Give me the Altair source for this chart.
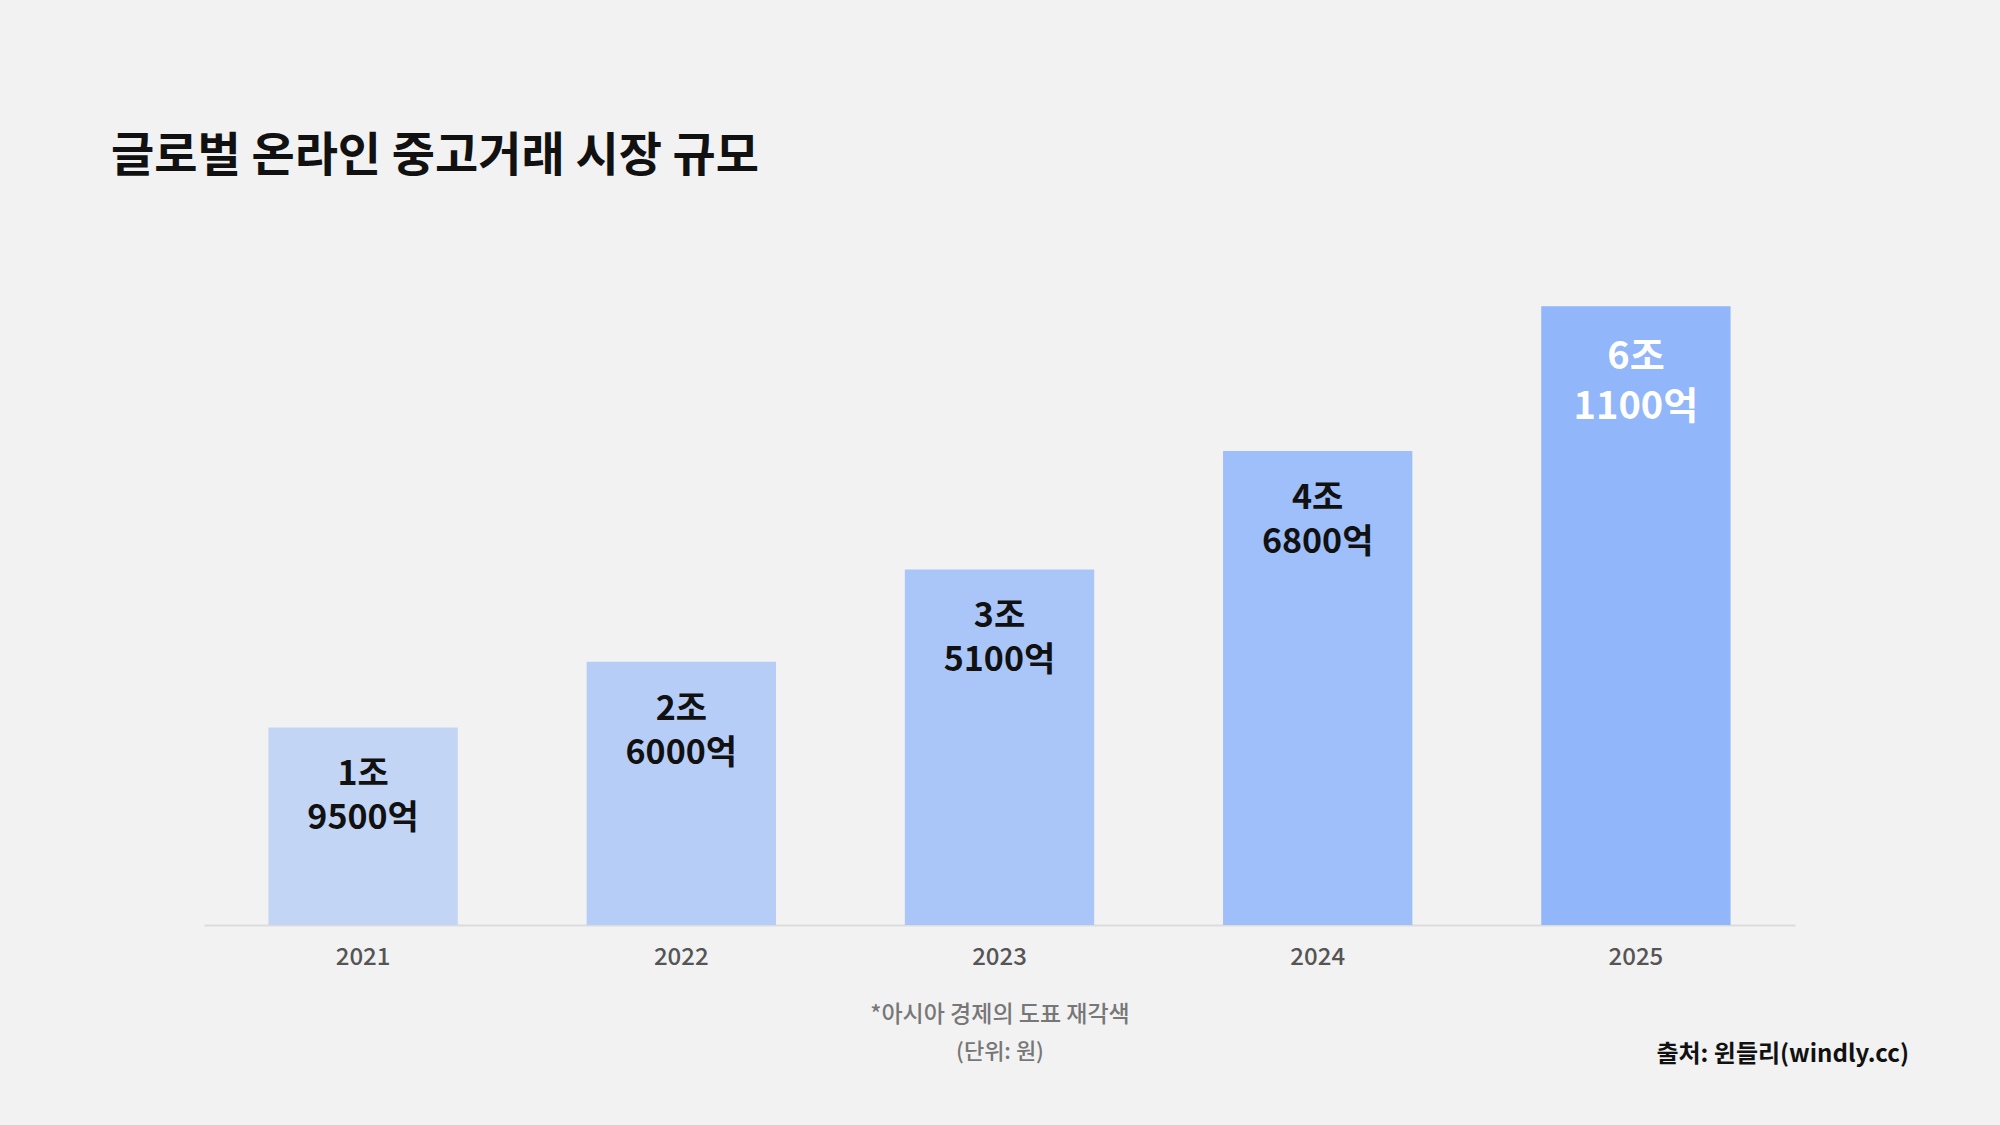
import altair as alt
import pandas as pd

years = ["2021", "2022", "2023", "2024", "2025"]
values = [1.95, 2.60, 3.51, 4.68, 6.11]  # 조 원
labels = ["1조\n9500억", "2조\n6000억", "3조\n5100억", "4조\n6800억", "6조\n1100억"]
bar_colors = ["#c3d5f5", "#b6cdf7", "#aac6f8", "#9ebff9", "#91b6fa"]

title_text = "글로벌 온라인 중고거래 시장 규모"
note1 = "*아시아 경제의 도표 재각색"
note2 = "(단위: 원)"
source = "출처: 윈들리(windly.cc)"

FONT = "Noto Sans CJK KR"

df = pd.DataFrame({"year": years, "value": values, "label": labels})

x = alt.X("year:N", sort=years,
          scale=alt.Scale(paddingInner=0.405, paddingOuter=0.2025),
          axis=alt.Axis(title=None, labelAngle=0, labelFont=FONT, labelFontSize=24,
                        labelColor="#555555", labelFontWeight=500, labelPadding=20,
                        ticks=False, domainColor="#dcdcdc", domainWidth=2))
y = alt.Y("value:Q", scale=alt.Scale(domain=[0, 7], nice=False), axis=None)

base = alt.Chart(df)

bars = base.mark_bar().encode(
    x=x, y=y,
    color=alt.Color("year:N", scale=alt.Scale(domain=years, range=bar_colors), legend=None),
)

text_dark = base.transform_filter(alt.datum.year != "2025").mark_text(
    font=FONT, fontSize=34, fontWeight="bold", lineHeight=44, baseline="middle",
    align="center", dy=48, color="#111111", lineBreak="\n"
).encode(x=x, y=y, text="label:N")

text_light = base.transform_filter(alt.datum.year == "2025").mark_text(
    font=FONT, fontSize=38, fontWeight="bold", lineHeight=50, baseline="middle",
    align="center", dy=52, color="#ffffff", lineBreak="\n"
).encode(x=x, y=y, text="label:N")


def note(txt, xpos, ypos, size, color, weight, align):
    return alt.Chart(pd.DataFrame({"t": [txt]})).mark_text(
        font=FONT, fontSize=size, color=color, fontWeight=weight, align=align,
        baseline="middle"
    ).encode(x=alt.value(xpos), y=alt.value(ypos), text="t:N")


title = note(title_text, -93, -59, 47, "#111111", "bold", "left")
n1 = note(note1, 796, 799, 23, "#777777", 500, "center")
n2 = note(note2, 796, 836, 22, "#777777", 500, "center")
src = note(source, 1705, 839, 24, "#111111", "bold", "right")

chart = alt.layer(bars, text_dark, text_light, title, n1, n2, src).properties(
    width=1591, height=709,
    autosize=alt.AutoSizeParams(type="none"),
    padding={"left": 204, "top": 216, "right": 205, "bottom": 200},
    background="#f2f2f2",
).configure_view(stroke=None)

chart.save("out.html", embed_options={"renderer": "svg", "actions": False})
